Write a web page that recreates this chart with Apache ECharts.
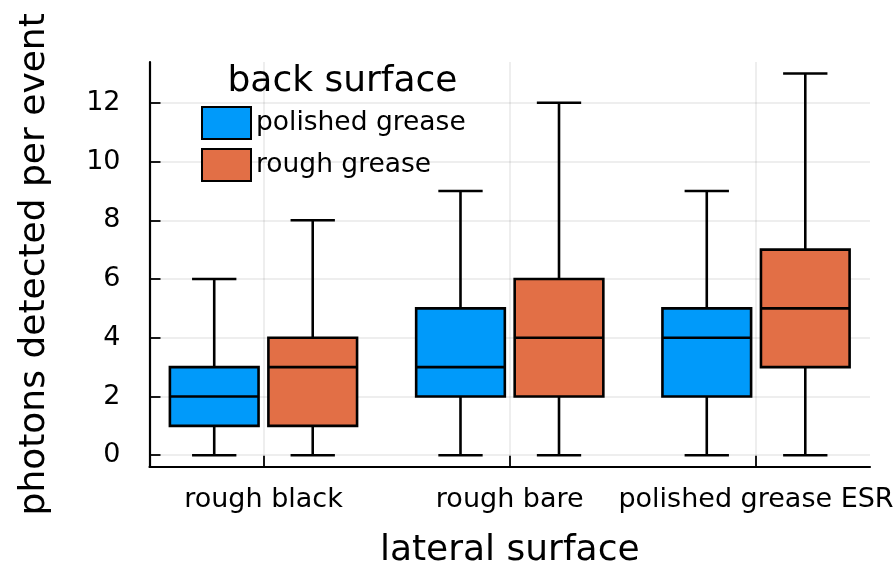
<!DOCTYPE html>
<html>
<head>
<meta charset="utf-8">
<script src="https://cdn.jsdelivr.net/npm/echarts@6/dist/echarts.min.js"></script>
<style>
  html, body { margin: 0; padding: 0; background: #fff; }
  #chart { width: 895px; height: 567px; }
</style>
</head>
<body>
<div id="chart"></div>
<script>
// ---- data ----
const categories = ['rough black', 'rough bare', 'polished grease ESR'];
const seriesNames = ['polished grease', 'rough grease'];
// each row: [min (whisker low), q1, median, q3, max (whisker high)]
const polishedGrease = [
  [0, 1, 2, 3, 6],
  [0, 2, 3, 5, 9],
  [0, 2, 4, 5, 9]
];
const roughGrease = [
  [0, 1, 3, 4, 8],
  [0, 2, 4, 6, 12],
  [0, 3, 5, 7, 13]
];
const yTicks = [0, 2, 4, 6, 8, 10, 12];
const legendTitle = 'back surface';
const xTitle = 'lateral surface';
const yTitle = 'photons detected per event';

// ---- styling / layout ----
const FONT = 'DejaVu Sans';
const colors = ['#009AFA', '#E26F46'];
const GROUP_OFFSET = 0.2;
const BOX_HALF = 0.18;
const CAP_HALF = 0.09;
const LW = 2.6;
const xPositions = categories.map((c, i) => i + 0.5);

function rows(stats) {
  return stats.map((s, i) => [xPositions[i]].concat(s));
}

function makeRender(offset) {
  return function (params, api) {
    const x = api.value(0) + offset;
    const lo = api.value(1), q1 = api.value(2), med = api.value(3), q3 = api.value(4), hi = api.value(5);
    const color = api.visual('color');
    const tl = api.coord([x - BOX_HALF, q3]);
    const br = api.coord([x + BOX_HALF, q1]);
    const cLo = api.coord([x, lo]);
    const cHi = api.coord([x, hi]);
    const cQ1 = api.coord([x, q1]);
    const cQ3 = api.coord([x, q3]);
    const mL = api.coord([x - BOX_HALF, med]);
    const mR = api.coord([x + BOX_HALF, med]);
    const capLoL = api.coord([x - CAP_HALF, lo]);
    const capLoR = api.coord([x + CAP_HALF, lo]);
    const capHiL = api.coord([x - CAP_HALF, hi]);
    const capHiR = api.coord([x + CAP_HALF, hi]);
    const ls = { stroke: '#000', lineWidth: LW };
    return {
      type: 'group',
      children: [
        { type: 'line', shape: { x1: cLo[0], y1: cLo[1], x2: cQ1[0], y2: cQ1[1] }, style: ls },
        { type: 'line', shape: { x1: cQ3[0], y1: cQ3[1], x2: cHi[0], y2: cHi[1] }, style: ls },
        { type: 'line', shape: { x1: capLoL[0], y1: capLoL[1], x2: capLoR[0], y2: capLoR[1] }, style: ls },
        { type: 'line', shape: { x1: capHiL[0], y1: capHiL[1], x2: capHiR[0], y2: capHiR[1] }, style: ls },
        { type: 'rect', shape: { x: tl[0], y: tl[1], width: br[0] - tl[0], height: br[1] - tl[1] },
          style: { fill: color, stroke: '#000', lineWidth: LW } },
        { type: 'line', shape: { x1: mL[0], y1: mL[1], x2: mR[0], y2: mR[1] }, style: ls }
      ]
    };
  };
}

const chart = echarts.init(document.getElementById('chart'), null, { renderer: 'canvas' });
const option = {
  backgroundColor: '#ffffff',
  animation: false,
  color: colors,
  textStyle: { fontFamily: FONT },
  grid: { left: 149.5, right: 25, top: 62, bottom: 100.3, containLabel: false, outerBoundsMode: 'none' },
  legend: {
    orient: 'vertical',
    left: 201,
    top: 106,
    padding: 0,
    itemWidth: 49,
    itemHeight: 32,
    itemGap: 8,
    icon: 'rect',
    textStyle: { fontFamily: FONT, fontSize: 26.5, color: '#000' },
    data: seriesNames.map((n, i) => ({
      name: n,
      itemStyle: { color: colors[i], borderColor: '#000', borderWidth: 2 }
    }))
  },
  graphic: [{
    type: 'text',
    x: 342.5,
    y: 82,
    style: { text: legendTitle, font: '36px "DejaVu Sans"', fill: '#000', align: 'center', verticalAlign: 'middle' }
  }],
  xAxis: {
    type: 'value',
    min: 0.0372,
    max: 2.9628,
    name: xTitle,
    nameLocation: 'middle',
    nameGap: 66,
    nameTextStyle: { fontFamily: FONT, fontSize: 36, color: '#000' },
    axisLine: { show: true, onZero: false, lineStyle: { color: '#000', width: 2.2 } },
    axisTick: { show: true, inside: true, length: 11, customValues: xPositions, lineStyle: { color: '#000', width: 1.8 } },
    axisLabel: {
      customValues: xPositions,
      fontFamily: FONT, fontSize: 27, color: '#000', margin: 20,
      formatter: function (v) { return categories[Math.round(v - 0.5)] || ''; }
    },
    splitLine: { show: true, lineStyle: { color: 'rgba(0,0,0,0.09)', width: 1.5 } }
  },
  yAxis: {
    type: 'value',
    min: -0.39,
    max: 13.39,
    name: yTitle,
    nameLocation: 'middle',
    nameGap: 97,
    nameTextStyle: { fontFamily: FONT, fontSize: 36, color: '#000' },
    axisLine: { show: true, onZero: false, lineStyle: { color: '#000', width: 2.2 } },
    axisTick: { show: true, inside: true, length: 11, customValues: yTicks, lineStyle: { color: '#000', width: 1.8 } },
    axisLabel: {
      customValues: yTicks,
      fontFamily: FONT, fontSize: 27, color: '#000', margin: 29
    },
    splitLine: { show: true, lineStyle: { color: 'rgba(0,0,0,0.09)', width: 1.5 } }
  },
  series: [
    {
      name: seriesNames[0],
      type: 'custom',
      renderItem: makeRender(-GROUP_OFFSET),
      encode: { x: 0, y: [1, 2, 3, 4, 5] },
      data: rows(polishedGrease),
      z: 3
    },
    {
      name: seriesNames[1],
      type: 'custom',
      renderItem: makeRender(GROUP_OFFSET),
      encode: { x: 0, y: [1, 2, 3, 4, 5] },
      data: rows(roughGrease),
      z: 3
    }
  ]
};
chart.setOption(option);
</script>
</body>
</html>
